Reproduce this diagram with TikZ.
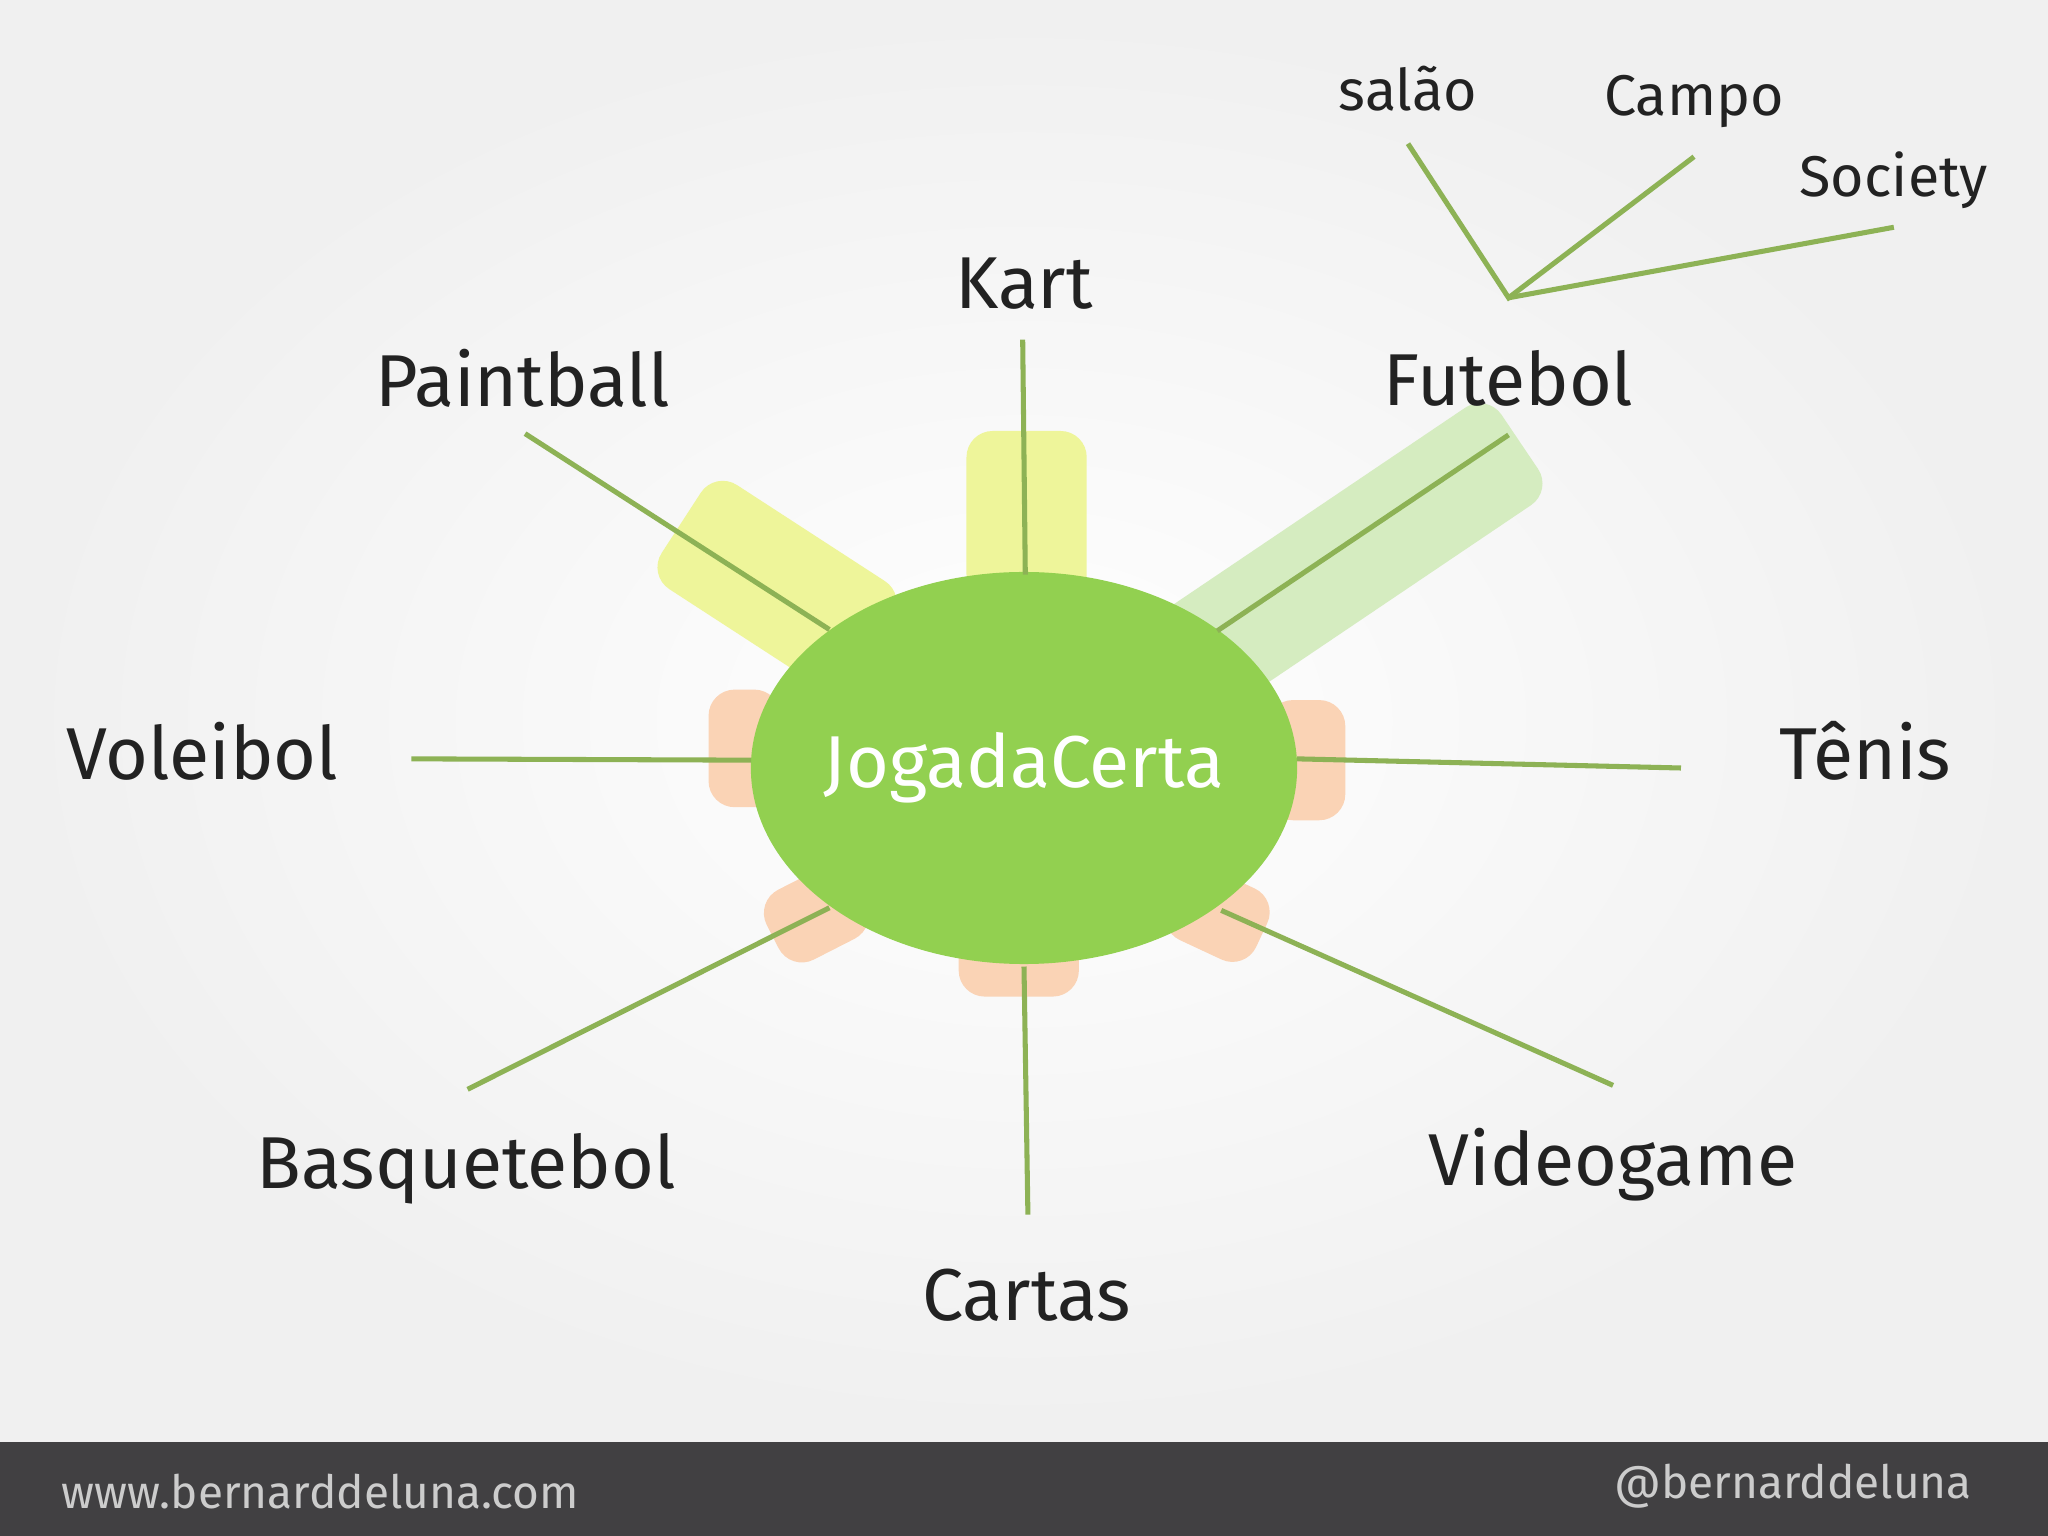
\documentclass[tikz,border=0pt]{standalone}
\usepackage{fontspec}
\usetikzlibrary{shapes.geometric}
\setmainfont{Fira Sans}
\definecolor{lin}{HTML}{8DB255}
\definecolor{ell}{HTML}{92D050}
\definecolor{yel}{HTML}{EEF59A}
\definecolor{lgr}{HTML}{D5ECC0}
\definecolor{ora}{HTML}{FAD3B5}
\definecolor{bar}{HTML}{414042}
\definecolor{txt}{HTML}{222222}
\tikzset{
  conn/.style={lin,line width=1.1pt},
  lab/.style={text=txt,font=\fontsize{16}{19}\selectfont},
  sublab/.style={text=txt,font=\fontsize{12.5}{15}\selectfont},
  slab/.style={rounded corners=0.2cm,inner sep=0pt},
}
\begin{document}
\begin{tikzpicture}[x=0.01cm,y=-0.01cm]
\useasboundingbox (0,0) rectangle (1568,1176);
\shade[inner color=white,outer color=gray!12] (0,0) rectangle (1568,1104);
\fill[bar] (0,1104) rectangle (1568,1176);
\node[text=gray!40,font=\fontsize{10}{12}\selectfont,anchor=west] (web) at (35,1142) {www.bernarddeluna.com};
\node[text=gray!40,font=\fontsize{10}{12}\selectfont,anchor=east] (tw) at (1522,1138) {@bernarddeluna};
% background bars
\node[slab,fill=yel,minimum width=0.92cm,minimum height=1.3cm] (bk) at (786,395) {};
\node[slab,fill=yel,rotate=-33,minimum width=1.75cm,minimum height=0.95cm] (bp) at (595,448) {};
\node[slab,fill=lgr,rotate=34,minimum width=3.1cm,minimum height=0.9cm] (bf) at (1035,425) {};
\node[slab,fill=ora,minimum width=0.55cm,minimum height=0.9cm] (bl) at (570,573) {};
\node[slab,fill=ora,minimum width=0.6cm,minimum height=0.92cm] (br) at (1000,582) {};
\node[slab,fill=ora,minimum width=0.92cm,minimum height=0.5cm] (bb) at (780,738) {};
\node[slab,fill=ora,rotate=27,minimum width=0.75cm,minimum height=0.6cm] (bbl) at (625,700) {};
\node[slab,fill=ora,rotate=-25,minimum width=0.75cm,minimum height=0.6cm] (bbr) at (932,700) {};
% center
\node[ellipse,fill=ell,minimum width=4.18cm,minimum height=3.0cm,inner sep=0pt] (c) at (784,588) {};
\node[text=white,font=\fontsize{16}{19}\selectfont] (ct) at (c) {JogadaCerta};
% labels
\node[lab] (kart) at (784,217) {Kart};
\node[lab] (paint) at (400,290) {Paintball};
\node[lab] (fut) at (1155,290) {Futebol};
\node[lab] (vol) at (155,575) {Voleibol};
\node[lab] (ten) at (1428,575) {Tênis};
\node[lab] (bas) at (357,895) {Basquetebol};
\node[lab] (car) at (786,992) {Cartas};
\node[lab] (vid) at (1235,892) {Videogame};
\node[sublab] (sal) at (1078,68) {salão};
\node[sublab] (cam) at (1297,78) {Campo};
\node[sublab] (soc) at (1450,138) {Society};
% connector coordinates
\coordinate (k1) at (783,260); \coordinate (k2) at (785,440);
\coordinate (p1) at (402,332); \coordinate (p2) at (635,482);
\coordinate (f1) at (1155,333); \coordinate (f2) at (932,483);
\coordinate (v1) at (315,581); \coordinate (v2) at (575,582);
\coordinate (t1) at (1287,588); \coordinate (t2) at (993,581);
\coordinate (b1) at (358,834); \coordinate (b2) at (635,695);
\coordinate (c1) at (787,930); \coordinate (c2) at (784,740);
\coordinate (g1) at (1235,831); \coordinate (g2) at (935,697);
\coordinate (hub) at (1155,228);
\coordinate (s1) at (1078,110); \coordinate (s2) at (1297,120); \coordinate (s3) at (1450,174);
\draw[conn] (k1)--(k2);
\draw[conn] (p1)--(p2);
\draw[conn] (f1)--(f2);
\draw[conn] (v1)--(v2);
\draw[conn] (t1)--(t2);
\draw[conn] (b1)--(b2);
\draw[conn] (c1)--(c2);
\draw[conn] (g1)--(g2);
\draw[conn] (s1)--(hub)--(s2);
\draw[conn] (hub)--(s3);
\end{tikzpicture}
\end{document}
